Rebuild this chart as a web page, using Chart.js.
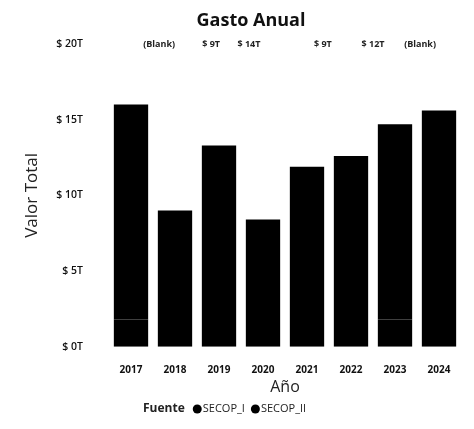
<!DOCTYPE html>
<html><head><meta charset="utf-8">
<script src="https://cdn.jsdelivr.net/npm/chart.js@4/dist/chart.umd.min.js"></script>
<style>html,body{margin:0;padding:0;background:#fff;overflow:hidden;}#c{display:block;}</style>
</head><body>
<canvas id="c" width="474" height="429"></canvas>
<script>
const categories = ['2017','2018','2019','2020','2021','2022','2023','2024'];
const secopI  = [1.8, 0, 0, 0, 0, 0, 1.8, 0];
const secopII = [14.2, 9.0, 13.3, 8.4, 11.9, 12.6, 12.9, 15.6];
const seriesNames = ['SECOP_I','SECOP_II'];
const topLabels = ['(Blank)','$ 9T','$ 14T','$ 9T','$ 12T','(Blank)'];
const yTicks = [0, 5, 10, 15, 20];

const FONT = '"Open Sans", "DejaVu Sans", sans-serif';
const topLabelAt = [0.64, 1.82, 2.68, 4.36, 5.5, 6.57];

const extras = {
  id: 'extras',
  afterDraw(chart) {
    const ctx = chart.ctx, xs = chart.scales.x, ys = chart.scales.y;
    ctx.save();
    ctx.fillStyle = '#111';
    ctx.font = 'bold 18px ' + FONT;
    ctx.textAlign = 'center'; ctx.textBaseline = 'middle';
    ctx.fillText('Gasto Anual', 251, 21);
    ctx.font = 'bold 9px ' + FONT;
    ctx.fillStyle = '#222';
    const yTop = ys.getPixelForValue(20);
    topLabels.forEach((t, i) => {
      const k = Math.floor(topLabelAt[i]);
      const p0 = xs.getPixelForValue(k);
      const p1 = xs.getPixelForValue(k + 1);
      ctx.fillText(t, p0 + (p1 - p0) * (topLabelAt[i] - k), yTop);
    });
    let x = 143; const y = 409;
    ctx.textAlign = 'left';
    ctx.font = 'bold 12px ' + FONT;
    ctx.fillStyle = '#222';
    ctx.fillText('Fuente', x, y);
    x += ctx.measureText('Fuente').width + 8;
    ctx.font = '11px ' + FONT;
    chart.data.datasets.forEach(ds => {
      ctx.beginPath(); ctx.fillStyle = '#000';
      ctx.arc(x + 4.5, y, 4.5, 0, Math.PI * 2); ctx.fill();
      x += 10;
      ctx.fillStyle = '#222';
      ctx.fillText(ds.label, x, y);
      x += ctx.measureText(ds.label).width + 6;
    });
    ctx.restore();
  }
};

new Chart(document.getElementById('c'), {
  type: 'bar',
  data: {
    labels: categories,
    datasets: [
      { label: seriesNames[0], data: secopI, backgroundColor: '#000', borderWidth: 0 },
      { label: seriesNames[1], data: secopII, backgroundColor: '#000', borderWidth: 0 }
    ]
  },
  options: {
    responsive: false, animation: false,
    layout: { padding: { top: 44, right: 13, bottom: 32, left: 18 } },
    plugins: { legend: { display: false }, title: { display: false }, tooltip: { enabled: false } },
    datasets: { bar: { categoryPercentage: 1, barPercentage: 0.78 } },
    scales: {
      x: {
        stacked: true,
        grid: { display: false }, border: { display: false },
        ticks: { color: '#111', font: { family: FONT, size: 10, weight: 'bold' }, padding: 9 },
        title: { display: true, text: 'Año', color: '#222', font: { family: FONT, size: 16 }, padding: { top: -7, bottom: 0 } }
      },
      y: {
        stacked: true, min: 0, max: 20,
        afterBuildTicks(s) { s.ticks = yTicks.map(v => ({ value: v })); },
        afterFit(s) { s.width = 91; },
        grid: { display: false }, border: { display: false },
        ticks: { color: '#111', font: { family: FONT, size: 10.5, weight: '600' }, padding: 18,
                 callback: v => '$ ' + v + 'T' },
        title: { display: true, text: 'Valor Total', color: '#222', font: { family: FONT, size: 17 }, padding: { bottom: 2 } }
      }
    }
  },
  plugins: [extras]
});
</script>
</body></html>
